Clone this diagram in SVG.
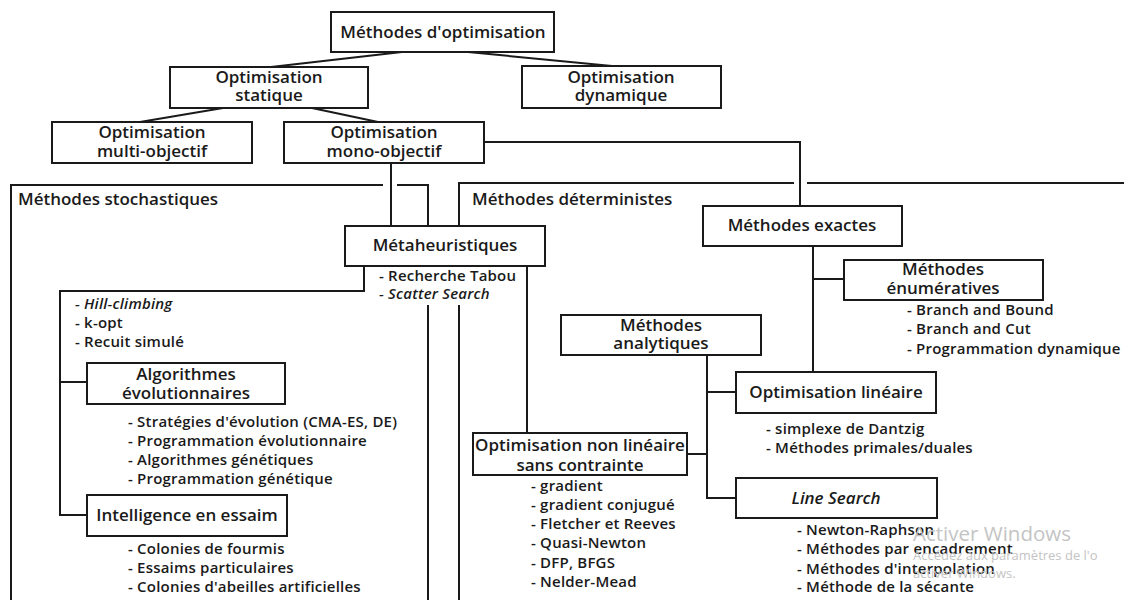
<svg xmlns="http://www.w3.org/2000/svg" width="1124" height="600" viewBox="0 0 1124 600">
<style>
.bx{fill:#fff;stroke:#1a1a1a;stroke-width:2}
.ln{fill:none;stroke:#1a1a1a;stroke-width:2}
text{font-family:"Open Sans","Liberation Sans",sans-serif;fill:#1a1a1a}
.t{font-size:17px;font-weight:600;text-anchor:middle}
.h{font-size:17px;font-weight:600}
.l{font-size:15px;font-weight:600;letter-spacing:0.2px}
.i{font-style:italic}
.w{font-family:"Open Sans",sans-serif;fill:#c4c4c4}
</style>
<rect width="1124" height="600" fill="#fff"/>
<g id="frames" class="ln">
<path d="M11,600 V185 H383 M397,185 H428 V226 M428,305 V600"/>
<path d="M459,600 V305 M459,226 V183 H794 M807,183 H1124"/>
</g>
<text class="h" x="18" y="205">Méthodes stochastiques</text>
<text class="h" x="472" y="205">Méthodes déterministes</text>
<g id="connectors" class="ln">
<path d="M402,52 L271,67"/>
<path d="M468,52 L612,66"/>
<path d="M223,108 L140,122"/>
<path d="M312,108 L378,122"/>
<path d="M484,142 H800 V206"/>
<path d="M391,163 V226"/>
<path d="M364,266 V291 H60 V515 H87 M60,382 H87"/>
<path d="M527,266 V433"/>
<path d="M813,246 V372 M813,279 H844"/>
<path d="M707,355 V498 H736 M707,392 H736 M687,454 H707"/>
</g>
<g id="n-root"><rect class="bx" x="331" y="12" width="223" height="40"/><text class="t" x="443" y="38">Méthodes d'optimisation</text></g>
<g id="n-statique"><rect class="bx" x="170" y="67" width="198" height="41"/><text class="t" x="269" y="83">Optimisation</text><text class="t" x="269" y="101">statique</text></g>
<g id="n-dynamique"><rect class="bx" x="522" y="66" width="199" height="42"/><text class="t" x="621" y="83">Optimisation</text><text class="t" x="621" y="101">dynamique</text></g>
<g id="n-multi"><rect class="bx" x="52" y="122" width="200" height="41"/><text class="t" x="152" y="138">Optimisation</text><text class="t" x="152" y="157">multi-objectif</text></g>
<g id="n-mono"><rect class="bx" x="284" y="122" width="200" height="41"/><text class="t" x="384" y="138">Optimisation</text><text class="t" x="384" y="157">mono-objectif</text></g>
<g id="n-meta"><rect class="bx" x="345" y="226" width="200" height="40"/><text class="t" x="445" y="251">Métaheuristiques</text>
<rect x="377" y="268" width="142" height="36" fill="#fff"/>
<text class="l" x="379" y="281">- Recherche Tabou</text><text class="l i" x="379" y="299">- Scatter Search</text></g>
<g id="n-local"><text class="l i" x="75" y="309">- Hill-climbing</text><text class="l" x="75" y="328">- k-opt</text><text class="l" x="75" y="347">- Recuit simulé</text></g>
<g id="n-evo"><rect class="bx" x="87" y="363" width="198" height="41"/><text class="t" x="186" y="380">Algorithmes</text><text class="t" x="186" y="399">évolutionnaires</text>
<text class="l" x="128" y="427">- Stratégies d'évolution (CMA-ES, DE)</text><text class="l" x="128" y="446">- Programmation évolutionnaire</text><text class="l" x="128" y="465">- Algorithmes génétiques</text><text class="l" x="128" y="484">- Programmation génétique</text></g>
<g id="n-swarm"><rect class="bx" x="87" y="495" width="200" height="41"/><text class="t" x="187" y="521">Intelligence en essaim</text>
<text class="l" x="128" y="554">- Colonies de fourmis</text><text class="l" x="128" y="573">- Essaims particulaires</text><text class="l" x="128" y="592">- Colonies d'abeilles artificielles</text></g>
<g id="n-exactes"><rect class="bx" x="703" y="206" width="199" height="40"/><text class="t" x="802" y="231">Méthodes exactes</text></g>
<g id="n-enum"><rect class="bx" x="844" y="260" width="199" height="40"/><text class="t" x="943" y="275">Méthodes</text><text class="t" x="943" y="294">énumératives</text>
<text class="l" x="907" y="315">- Branch and Bound</text><text class="l" x="907" y="334">- Branch and Cut</text><text class="l" x="907" y="354">- Programmation dynamique</text></g>
<g id="n-analytiques"><rect class="bx" x="561" y="315" width="200" height="40"/><text class="t" x="661" y="331">Méthodes</text><text class="t" x="661" y="349">analytiques</text></g>
<g id="n-lineaire"><rect class="bx" x="736" y="372" width="200" height="41"/><text class="t" x="836" y="398">Optimisation linéaire</text>
<text class="l" x="766" y="434">- simplexe de Dantzig</text><text class="l" x="766" y="453">- Méthodes primales/duales</text></g>
<g id="n-nonlin"><rect class="bx" x="473" y="433" width="214" height="42"/><text class="t" x="580" y="451">Optimisation non linéaire</text><text class="t" x="580" y="471">sans contrainte</text>
<text class="l" x="531" y="491">- gradient</text><text class="l" x="531" y="510">- gradient conjugué</text><text class="l" x="531" y="529">- Fletcher et Reeves</text><text class="l" x="531" y="548">- Quasi-Newton</text><text class="l" x="531" y="568">- DFP, BFGS</text><text class="l" x="531" y="587">- Nelder-Mead</text></g>
<g id="n-linesearch"><rect class="bx" x="736" y="478" width="201" height="40"/><text class="t i" x="836" y="504">Line Search</text>
<text class="l" x="797" y="535">- Newton-Raphson</text><text class="l" x="797" y="554">- Méthodes par encadrement</text><text class="l" x="797" y="574">- Méthodes d'interpolation</text><text class="l" x="797" y="592">- Méthode de la sécante</text></g>
<g id="watermark"><text class="w" x="913" y="541" font-size="20.5">Activer Windows</text><text class="w" x="913" y="560" font-size="13">Accédez aux paramètres de l'o</text><text class="w" x="913" y="578" font-size="13">activer Windows.</text></g>
</svg>
